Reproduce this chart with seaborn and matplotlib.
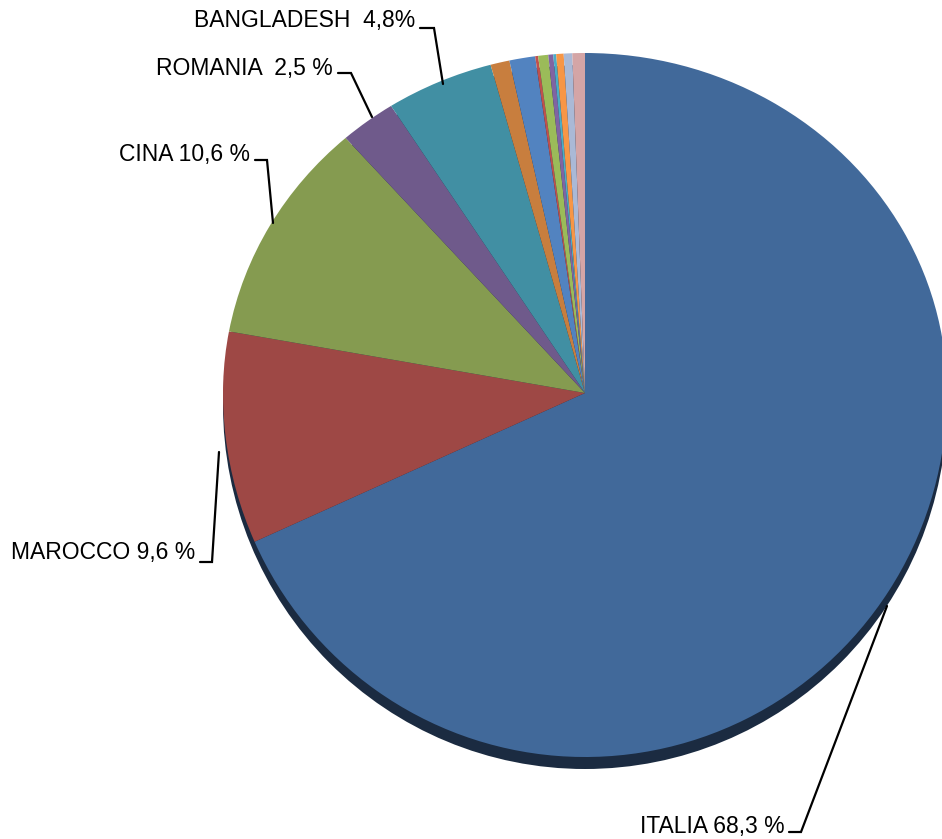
import matplotlib
matplotlib.use("Agg")
import numpy as np
import matplotlib.pyplot as plt
import matplotlib.transforms as mtransforms
from matplotlib.patches import Ellipse
import seaborn as sns

sns.set_theme(style="white")
plt.rcParams['font.family'] = ['Liberation Sans', 'DejaVu Sans']

# data (percentages), clockwise from 12 o'clock
countries = ["ITALIA", "MAROCCO", "CINA", "ROMANIA", "BANGLADESH",
             "A", "B", "C", "D", "E", "F", "G", "H", "I"]
values = [68.3, 9.6, 10.6, 2.5, 4.8,
          0.85, 1.15, 0.13, 0.45, 0.22, 0.13, 0.33, 0.38, 0.56]
colors = ["#41699A", "#9E4845", "#859B50", "#6F5A8B", "#418FA3",
          "#C87E3E", "#5283C0", "#C0504D", "#9BBB59", "#8064A2",
          "#4BACC6", "#F79646", "#AAB9D6", "#D4A5A6"]
label_texts = ["ITALIA 68,3 %", "MAROCCO 9,6 %", "CINA 10,6 %",
               "ROMANIA  2,5 %", "BANGLADESH  4,8%"]

W, H = 942, 839
fig = plt.figure(figsize=(W / 100, H / 100), dpi=100)
ax = fig.add_axes([0, 0, 1, 1])
ax.set_xlim(0, W)
ax.set_ylim(H, 0)
ax.axis("off")


class Tilt(mtransforms.Transform):
    """Compress the upper half of the unit pie (perspective look)."""
    input_dims = output_dims = 2

    def __init__(self, k):
        super().__init__()
        self.k = k

    def transform_non_affine(self, values):
        v = np.array(values, dtype=float).copy()
        v[:, 1] = np.where(v[:, 1] < 0, v[:, 1] * self.k, v[:, 1])
        return v


cx, cy, rx, ry_top, ry_bot = 585, 393, 362, 340, 364
pie_tr = (Tilt(ry_top / ry_bot)
          + mtransforms.Affine2D().scale(rx, ry_bot).translate(cx, cy)
          + ax.transData)
shadow_tr = (Tilt(ry_top / ry_bot)
             + mtransforms.Affine2D().scale(rx, ry_bot).translate(cx, cy + 12)
             + ax.transData)

# shadow under the pie
shadow = Ellipse((0, 0), 2, 2, facecolor="#1B2B41", edgecolor="none",
                 transform=shadow_tr, zorder=1)
ax.add_patch(shadow)

wedges, _ = ax.pie(values, colors=colors, startangle=-90, counterclock=True,
                   radius=1, center=(0, 0),
                   wedgeprops=dict(linewidth=0, antialiased=True))
for w in wedges:
    w.set_transform(pie_tr)
    w.set_zorder(2)
ax.set_xlim(0, W)
ax.set_ylim(H, 0)
ax.set_aspect("auto")

# labels: (text right x, text center y, leader polyline)
label_pos = [
    (785, 826, [(789, 832), (801, 832), (887, 606)]),
    (195, 553, [(200, 562), (212, 562), (219, 452)]),
    (250, 155, [(255, 160), (267, 160), (273, 223)]),
    (333, 68, [(338, 73), (351, 73), (372, 117)]),
    (415, 20, [(420, 28), (434, 28), (443, 84)]),
]
for txt, (tx, ty, pts) in zip(label_texts, label_pos):
    ax.text(tx, ty, txt, ha="right", va="center", fontsize=16.5,
            color="black", zorder=5)
    xs = [p[0] for p in pts]
    ys = [p[1] for p in pts]
    ax.plot(xs, ys, color="black", lw=1.6, zorder=4, solid_joinstyle="miter")

fig.savefig("out.png", dpi=100, facecolor="white")
